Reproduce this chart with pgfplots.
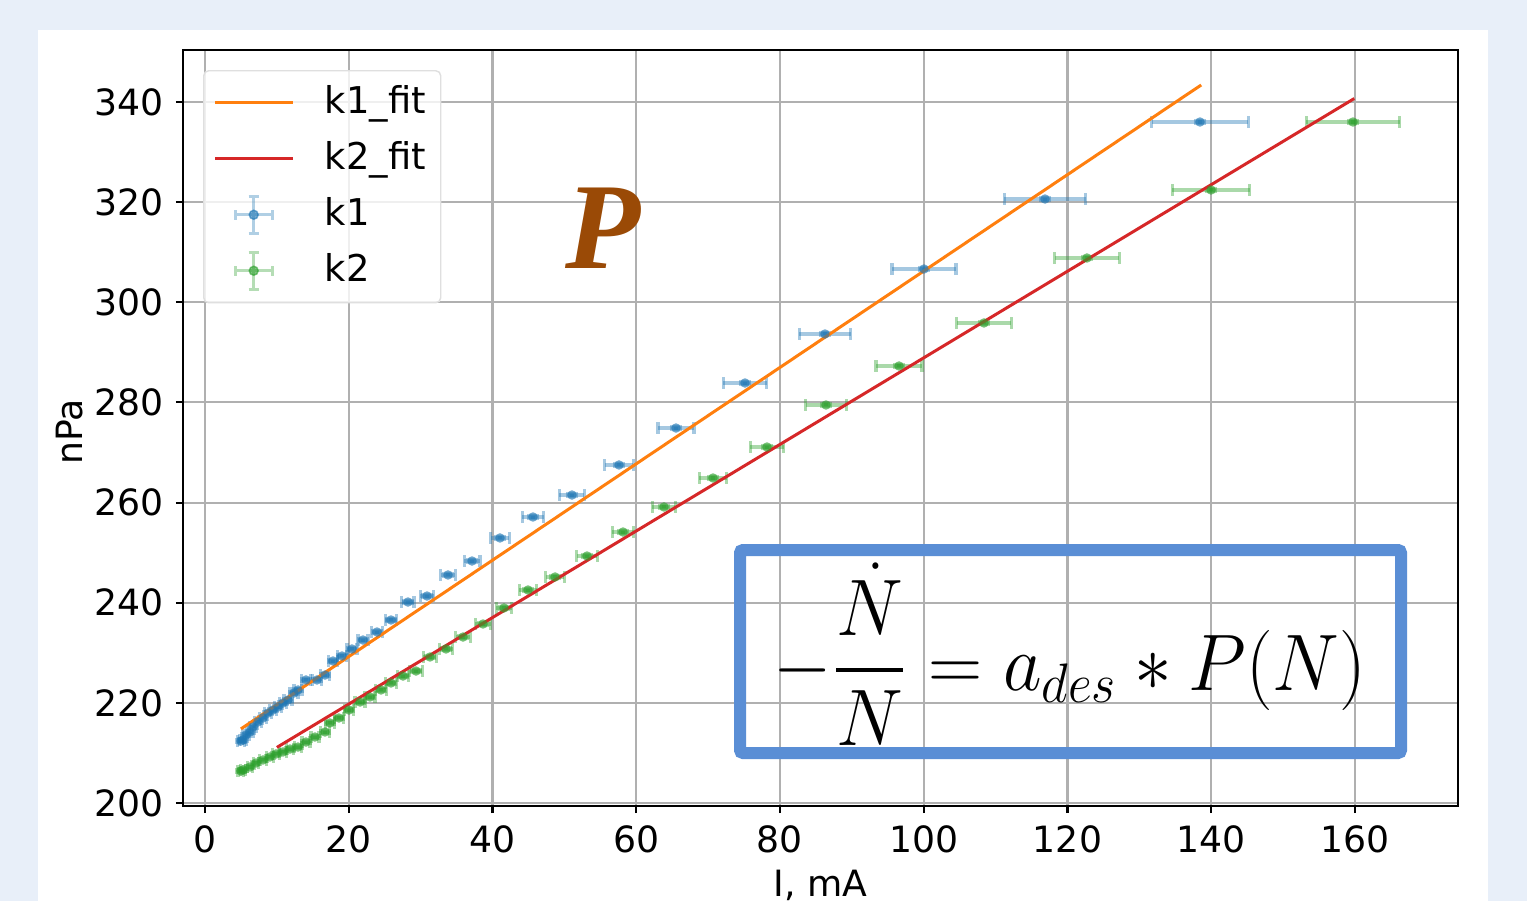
\documentclass[border=0pt]{standalone}
\usepackage{pgfplots}
\pgfplotsset{compat=1.18}
\usepackage{pgfplotstable}
\usepackage{amsmath}
\usepackage{graphicx}
\usepackage{fontspec}
\setmainfont{DejaVu Sans}
\newfontfamily\serifP{Liberation Serif}
\definecolor{tabblue}{HTML}{1F77B4}
\definecolor{taborange}{HTML}{FF7F0E}
\definecolor{tabgreen}{HTML}{2CA02C}
\definecolor{tabred}{HTML}{D62728}
\definecolor{bgblue}{HTML}{E8EFF9}
\definecolor{boxblue}{HTML}{5A8ED5}
\definecolor{gridgray}{HTML}{B0B0B0}
\definecolor{pbrown}{HTML}{9A4A06}

\pgfplotstableread{
x y ex ey
5.01 212.38 0.45 0.3
5.29 212.58 0.45 0.3
5.70 213.58 0.45 0.3
6.26 214.18 0.45 0.3
6.68 215.18 0.45 0.3
7.37 216.18 0.45 0.3
8.07 216.98 0.5 0.3
8.77 217.97 0.5 0.3
9.46 218.57 0.5 0.3
10.16 219.17 0.5 0.3
10.85 219.97 0.5 0.3
11.55 220.57 0.55 0.3
12.38 221.97 0.55 0.3
12.94 222.57 0.55 0.3
14.05 224.57 0.6 0.3
15.58 224.57 0.6 0.3
16.70 225.56 0.6 0.3
17.81 228.36 0.65 0.3
19.06 229.36 0.65 0.3
20.45 230.76 0.7 0.3
21.98 232.55 0.7 0.3
23.93 234.15 0.75 0.3
25.88 236.55 0.8 0.3
28.24 240.14 0.85 0.3
30.89 241.34 0.95 0.3
33.81 245.54 1.0 0.3
37.15 248.33 1.1 0.3
41.04 252.93 1.28 0.3
45.63 257.12 1.5 0.3
51.06 261.51 1.74 0.3
57.60 267.51 2.0 0.3
65.53 274.89 2.5 0.3
75.13 283.88 3.0 0.3
86.26 293.67 3.6 0.3
100.03 306.65 4.45 0.3
116.87 320.63 5.66 0.3
138.43 336.01 6.7 0.3
}\kone

\pgfplotstableread{
x y ex ey
5.00 206.40 0.4 0.3
5.29 206.59 0.4 0.3
6.26 207.19 0.4 0.3
7.10 207.99 0.4 0.3
8.07 208.59 0.45 0.3
9.04 209.19 0.45 0.3
9.88 209.79 0.45 0.3
10.85 210.19 0.5 0.3
11.83 210.78 0.5 0.3
12.94 211.18 0.5 0.3
14.05 212.18 0.55 0.3
15.30 213.18 0.55 0.3
16.70 214.18 0.6 0.3
17.39 215.98 0.6 0.3
18.64 216.98 0.65 0.3
20.03 218.57 0.65 0.3
21.57 220.17 0.7 0.3
22.96 221.17 0.7 0.3
24.49 222.57 0.75 0.3
25.88 223.97 0.75 0.3
27.55 225.36 0.8 0.3
29.36 226.36 0.85 0.3
31.30 229.16 0.9 0.3
33.53 230.76 0.95 0.3
35.90 233.15 1.0 0.3
38.68 235.75 1.05 0.3
41.60 238.95 1.1 0.3
44.94 242.54 1.2 0.3
48.70 245.14 1.3 0.3
53.15 249.33 1.45 0.3
58.16 254.12 1.5 0.3
63.86 259.12 1.6 0.3
70.68 264.91 1.9 0.3
78.19 271.10 2.3 0.3
86.40 279.49 2.8 0.3
96.56 287.28 3.2 0.3
108.38 295.87 3.8 0.3
122.71 308.85 4.5 0.3
139.97 322.43 5.4 0.3
159.72 336.01 6.5 0.3
}\ktwo

\begin{document}
\begin{tikzpicture}[x=1cm,y=1cm]
\fill[bgblue] (0,0) rectangle (15.27,-9.01);
\fill[white] (0.38,-0.30) rectangle (14.88,-9.01);
\begin{scope}
\clip (0,0) rectangle (15.27,-9.01);
\begin{axis}[
  at={(1.83cm,-8.06cm)}, anchor=south west,
  width=12.75cm, height=7.56cm, scale only axis,
  xmin=-3.06, xmax=174.33, ymin=199.4, ymax=350.39,
  xtick={0,20,...,160}, ytick={200,220,...,340},
  grid=major, major grid style={gridgray, line width=0.6pt},
  axis line style={black, line width=0.7pt},
  tick align=outside, major tick length=0.07cm,
  tick style={black, line width=0.6pt},
  tick pos=left,
  font=\fontsize{10.3}{12}\selectfont,
  /pgf/number format/assume math mode=true,
  xlabel={I, mA}, ylabel={nPa},
  every axis y label/.style={at={(axis description cs:-0.0886,0.495)}, rotate=90, anchor=center},
  every axis x label/.style={at={(axis description cs:0.5,0)}, anchor=center, yshift=-0.79cm},
  legend style={at={(0.0157,0.9735)}, anchor=north west, draw=gray!25, rounded corners=0.05cm,
    fill=white, fill opacity=0.8, text opacity=1, font=\fontsize{10.5}{12}\selectfont,
    inner xsep=0.1cm, inner ysep=0.08cm, row sep=0.08cm,
    nodes={inner sep=0.05cm, text height=0.3cm, text depth=0.08cm}},
  legend cell align=left,
  legend entries={\hspace{0.25cm}k1\_fit\hspace{0.03cm}, \hspace{0.25cm}k2\_fit\hspace{0.03cm}, \hspace{0.25cm}k1, \hspace{0.25cm}k2},
]
\addlegendimage{legend image code/.code={\draw[taborange, line width=0.85pt] (0cm,0cm) -- (0.78cm,0cm);}}
\addlegendimage{legend image code/.code={\draw[tabred, line width=0.85pt] (0cm,0cm) -- (0.78cm,0cm);}}
\addlegendimage{legend image code/.code={
  \draw[tabblue, opacity=0.35, line width=0.85pt] (0.2cm,0cm) -- (0.57cm,0cm) (0.385cm,-0.185cm) -- (0.385cm,0.185cm)
     (0.2cm,-0.05cm) -- (0.2cm,0.05cm) (0.57cm,-0.05cm) -- (0.57cm,0.05cm)
     (0.335cm,-0.185cm) -- (0.435cm,-0.185cm) (0.335cm,0.185cm) -- (0.435cm,0.185cm);
  \fill[tabblue, opacity=0.6] (0.385cm,0cm) circle (0.045cm);}}
\addlegendimage{legend image code/.code={
  \draw[tabgreen, opacity=0.35, line width=0.85pt] (0.2cm,0cm) -- (0.57cm,0cm) (0.385cm,-0.185cm) -- (0.385cm,0.185cm)
     (0.2cm,-0.05cm) -- (0.2cm,0.05cm) (0.57cm,-0.05cm) -- (0.57cm,0.05cm)
     (0.335cm,-0.185cm) -- (0.435cm,-0.185cm) (0.335cm,0.185cm) -- (0.435cm,0.185cm);
  \fill[tabgreen, opacity=0.6] (0.385cm,0cm) circle (0.045cm);}}

\addplot[forget plot, only marks, color=tabblue, mark=*, mark size=1.35pt,
  mark options={draw=none, draw opacity=0, fill=tabblue, fill opacity=0.65},
  error bars/.cd, x dir=both, x explicit, y dir=both, y explicit,
  error mark=|,
  error bar style={color=tabblue, opacity=0.4, line width=1pt},
  error mark options={color=tabblue, opacity=0.4, mark size=1.6pt, line width=0.9pt}]
  table[x=x, y=y, x error=ex, y error=ey] {\kone};
\addplot[forget plot, only marks, color=tabgreen, mark=*, mark size=1.35pt,
  mark options={draw=none, draw opacity=0, fill=tabgreen, fill opacity=0.65},
  error bars/.cd, x dir=both, x explicit, y dir=both, y explicit,
  error mark=|,
  error bar style={color=tabgreen, opacity=0.4, line width=1pt},
  error mark options={color=tabgreen, opacity=0.4, mark size=1.6pt, line width=0.9pt}]
  table[x=x, y=y, x error=ex, y error=ey] {\ktwo};
\addplot[forget plot, taborange, line width=0.85pt] coordinates {(5.0,214.8) (138.6,343.4)};
\addplot[forget plot, tabred, line width=0.85pt] coordinates {(10.0,211.1) (159.9,340.7)};
\end{axis}
\end{scope}
\node[font=\serifP\fontsize{35}{40}\selectfont\bfseries\itshape, text=pbrown] at (6.03,-2.28) {P};
\draw[boxblue, line width=0.12cm, rounded corners=0.03cm] (7.40,-5.50) rectangle (14.01,-7.53);
\node[font=\fontsize{22}{26}\selectfont, inner sep=0pt] at (10.70,-6.54) {\scalebox{1.03}[1.1]{$-\dfrac{\dot N}{N} = a_{des} * P(N)$}};
\pgfresetboundingbox
\useasboundingbox (0,0) rectangle (15.27,-9.01);
\end{tikzpicture}
\end{document}
